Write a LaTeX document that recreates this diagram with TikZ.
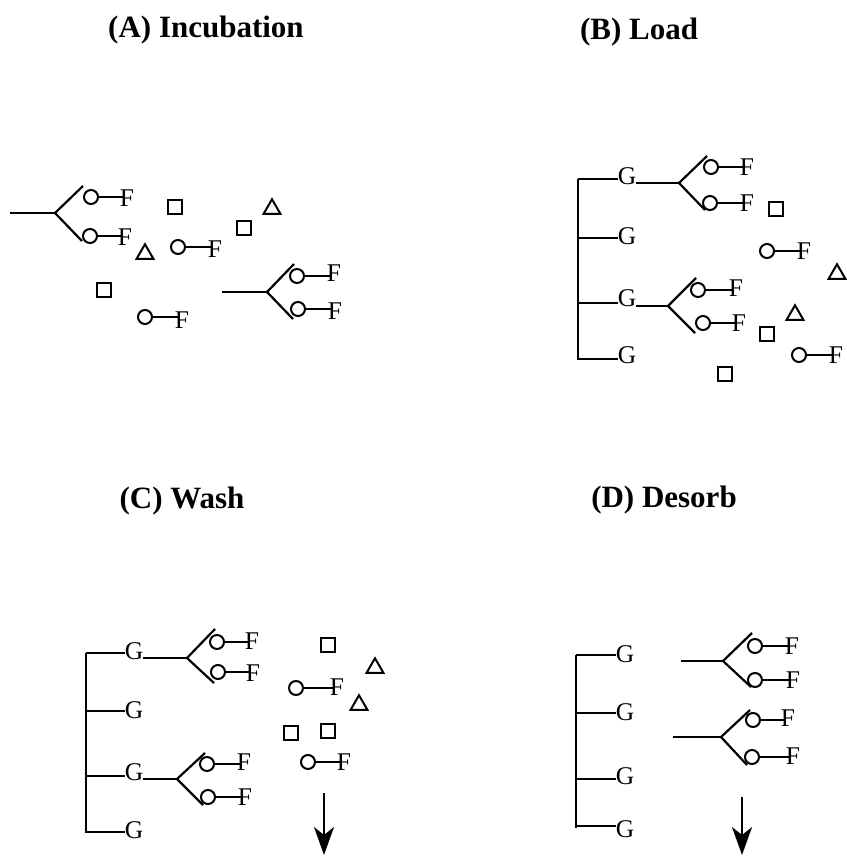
\documentclass[tikz,border=0pt]{standalone}
\usepackage{fontspec}
\setmainfont{Liberation Serif}
\usetikzlibrary{shapes.geometric,arrows.meta}
% circle with line to F: name, cx, cy, fx, fy
\newcommand\cfx[5]{%
  \node[circ] (#1c) at (#2,#3) {};
  \node[lab] (#1f) at (#4,#5) {F};
  \draw[ln] (#1c.east) -- ([xshift=3pt]#1c.east -| #1f.west);
}
% fork: name, Kx, Ky, Ux, Uy, Lx, Ly
\newcommand\forkx[7]{%
  \coordinate (#1k) at (#2,#3);
  \coordinate (#1u) at (#4,#5);
  \coordinate (#1l) at (#6,#7);
  \draw[ln] (#1u) -- (#1k) -- (#1l);
}
% G row: name, vx, ly, gx, gy
\newcommand\grow[5]{%
  \coordinate (#1s) at (#2,#3);
  \node[lab] (#1) at (#4,#5) {G};
  \draw[ln] (#1s) -- (#1s -| #1.west);
}
\begin{document}
\begin{tikzpicture}[x=1pt,y=-1pt,
  ln/.style={line width=2.2pt,line cap=butt},
  circ/.style={circle,draw,line width=2pt,minimum size=14pt,inner sep=0pt},
  sq/.style={rectangle,draw,line width=2pt,minimum size=14pt,inner sep=0pt},
  tri/.style={regular polygon,regular polygon sides=3,draw,line width=2pt,minimum size=19.5pt,inner sep=0pt},
  lab/.style={inner sep=0pt,font=\fontsize{25.5}{25.5}\selectfont},
  ttl/.style={inner sep=0pt,font=\fontsize{31}{31}\selectfont\bfseries},
  arr/.style={line width=2.2pt,-{Stealth[length=28pt,width=20pt,inset=8pt]}}]
\useasboundingbox (0,0) rectangle (846,856);

% ---------- titles ----------
\node[ttl] (tA) at (206,30) {(A) Incubation};
\node[ttl] (tB) at (639,32) {(B) Load};
\node[ttl] (tC) at (182,501) {(C) Wash};
\node[ttl] (tD) at (664,500) {(D) Desorb};

% ---------- (A) ----------
\coordinate (a1s) at (10,213);
\forkx{a1}{55}{213}{83}{186}{82}{241}
\draw[ln] (a1s) -- (a1k);
\cfx{a1a}{91}{197}{127}{198}
\cfx{a1b}{90}{236}{125}{237}
\coordinate (a2s) at (222,292);
\forkx{a2}{267}{292}{294}{264}{293}{319}
\draw[ln] (a2s) -- (a2k);
\cfx{a2a}{297}{276}{334}{273}
\cfx{a2b}{298}{309}{335}{311}
\cfx{a3}{178}{247}{215}{249}
\cfx{a4}{145}{317}{182}{320}
\node[sq] (asq1) at (175,207) {};
\node[sq] (asq2) at (244,228) {};
\node[sq] (asq3) at (104,290) {};
\node[tri] (atr1) at (272,209) {};
\node[tri] (atr2) at (145,254) {};

% ---------- (B) ----------
\coordinate (bTop) at (578,179);
\coordinate (bBot) at (578,360);
\draw[ln] (bTop) -- (bBot);
\grow{bg1}{578}{179}{627}{176}
\grow{bg2}{578}{238}{627}{236}
\grow{bg3}{578}{303}{627}{298}
\grow{bg4}{578}{359}{627}{355}
\forkx{b1}{679}{183}{707}{156}{705}{210}
\draw[ln] (bg1.east |- b1k) -- (b1k);
\cfx{b1a}{711}{167}{747}{167}
\cfx{b1b}{710}{203}{747}{203}
\forkx{b2}{668}{306}{696}{278}{695}{333}
\draw[ln] (bg3.east |- b2k) -- (b2k);
\cfx{b2a}{698}{290}{736}{288}
\cfx{b2b}{703}{323}{739}{323}
\cfx{b3}{767}{251}{804}{251}
\cfx{b4}{799}{355}{836}{355}
\node[sq] (bsq1) at (776,209) {};
\node[sq] (bsq2) at (767,334) {};
\node[sq] (bsq3) at (725,374) {};
\node[tri] (btr1) at (837,274) {};
\node[tri] (btr2) at (795,315) {};

% ---------- (C) ----------
\coordinate (cTop) at (86,653);
\coordinate (cBot) at (86,833);
\draw[ln] (cTop) -- (cBot);
\grow{cg1}{86}{653}{134}{651}
\grow{cg2}{86}{711}{134}{710}
\grow{cg3}{86}{776}{134}{772}
\grow{cg4}{86}{832}{134}{830}
\forkx{c1}{187}{658}{215}{629}{214}{683}
\draw[ln] (cg1.east |- c1k) -- (c1k);
\cfx{c1a}{217}{642}{252}{641}
\cfx{c1b}{218}{672}{253}{673}
\forkx{c2}{177}{779}{205}{753}{203}{805}
\draw[ln] (cg3.east |- c2k) -- (c2k);
\cfx{c2a}{207}{764}{244}{762}
\cfx{c2b}{208}{797}{245}{797}
\cfx{c3}{296}{688}{337}{687}
\cfx{c4}{308}{762}{344}{762}
\node[sq] (csq1) at (328,645) {};
\node[sq] (csq2) at (291,733) {};
\node[sq] (csq3) at (328,731) {};
\node[tri] (ctr1) at (375,668) {};
\node[tri] (ctr2) at (359,705) {};
\coordinate (cArS) at (324,793);
\coordinate (cArE) at (324,855);
\draw[arr] (cArS) -- (cArE);

% ---------- (D) ----------
\coordinate (dTop) at (576,655);
\coordinate (dBot) at (576,828);
\draw[ln] (dTop) -- (dBot);
\grow{dg1}{576}{655}{625}{654}
\grow{dg2}{576}{713}{625}{712}
\grow{dg3}{576}{779}{625}{776}
\grow{dg4}{576}{826}{625}{829}
\coordinate (d1s) at (681,661);
\forkx{d1}{723}{661}{752}{633}{751}{687}
\draw[ln] (d1s) -- (d1k);
\cfx{d1a}{755}{646}{792}{646}
\cfx{d1b}{755}{680}{793}{680}
\coordinate (d2s) at (673,737);
\forkx{d2}{721}{737}{750}{710}{747}{765}
\draw[ln] (d2s) -- (d2k);
\cfx{d2a}{753}{720}{788}{718}
\cfx{d2b}{752}{757}{793}{756}
\coordinate (dArS) at (742,797);
\coordinate (dArE) at (742,855);
\draw[arr] (dArS) -- (dArE);
\end{tikzpicture}
\end{document}
